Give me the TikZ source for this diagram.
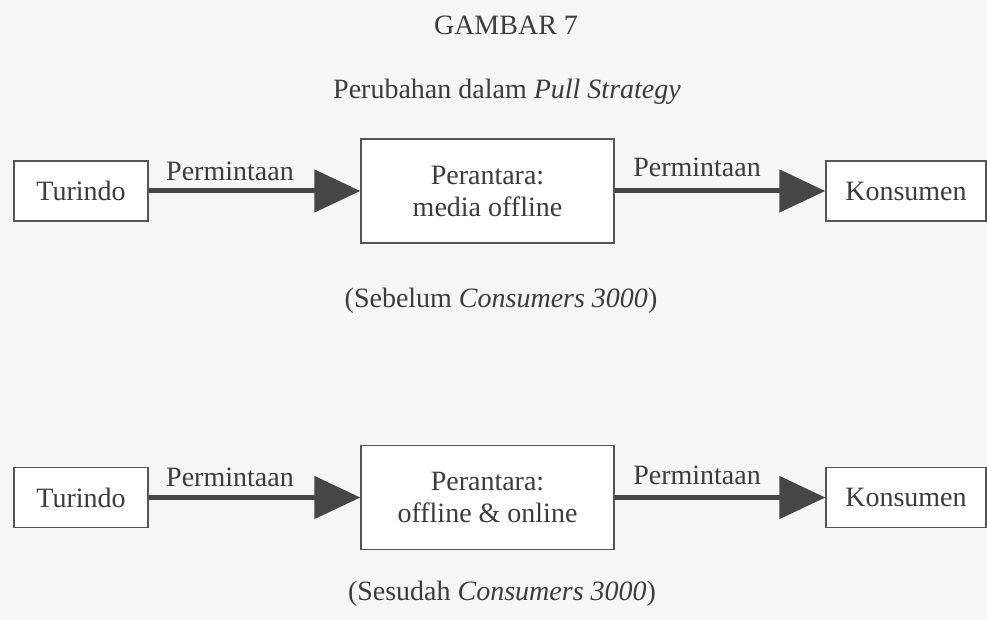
\documentclass[tikz,border=0pt]{standalone}
\usepackage{fontspec}
\setmainfont{Liberation Serif}
\usetikzlibrary{arrows.meta}
\definecolor{txt}{HTML}{3C3C3C}
\definecolor{edge}{HTML}{555555}
\definecolor{arrc}{HTML}{464646}
\definecolor{bg}{HTML}{F6F6F6}
\begin{document}
\begin{tikzpicture}[x=1pt,y=-1pt,
  every node/.style={text=txt,font=\fontsize{28}{32}\selectfont},
  boxnode/.style={draw=edge,line width=1.4pt,fill=white,inner sep=0pt,align=center},
  smallbox/.style={boxnode,minimum height=60pt},
  midbox/.style={boxnode,minimum width=253pt,minimum height=104pt},
  flow/.style={draw=arrc,line width=5pt,-{Triangle[length=46pt,width=42pt,fill=arrc]}},
  lbl/.style={anchor=base,inner sep=0pt}]
\fill[bg] (0,0) rectangle (987,620);
\useasboundingbox (0,0) rectangle (987,620);

\node[lbl] (title) at (506,35) {GAMBAR 7};
\node[lbl] (subtitle) at (507,99) {Perubahan dalam \textit{Pull Strategy}};

% Row 1
\node[smallbox,minimum width=134pt] (t1) at (81,191) {Turindo};
\node[midbox] (m1) at (487.5,191) {Perantara:\\media offline};
\node[smallbox,minimum width=160pt] (k1) at (906,191) {Konsumen};
\draw[flow] (t1.east) -- (m1.west);
\draw[flow] (m1.east) -- (k1.west);
\node[lbl] (p1) at (230,181) {Permintaan};
\node[lbl] (p2) at (697,177) {Permintaan};
\node[lbl] (c1) at (501,307) {(Sebelum \textit{Consumers 3000})};

% Row 2
\node[smallbox,minimum width=134pt] (t2) at (81,497.5) {Turindo};
\node[midbox] (m2) at (487.5,497.5) {Perantara:\\offline \& online};
\node[smallbox,minimum width=160pt] (k2) at (906,497.5) {Konsumen};
\draw[flow] (t2.east) -- (m2.west);
\draw[flow] (m2.east) -- (k2.west);
\node[lbl] (p3) at (230,486) {Permintaan};
\node[lbl] (p4) at (697,484) {Permintaan};
\node[lbl] (c2) at (502,600) {(Sesudah \textit{Consumers 3000})};
\end{tikzpicture}
\end{document}
